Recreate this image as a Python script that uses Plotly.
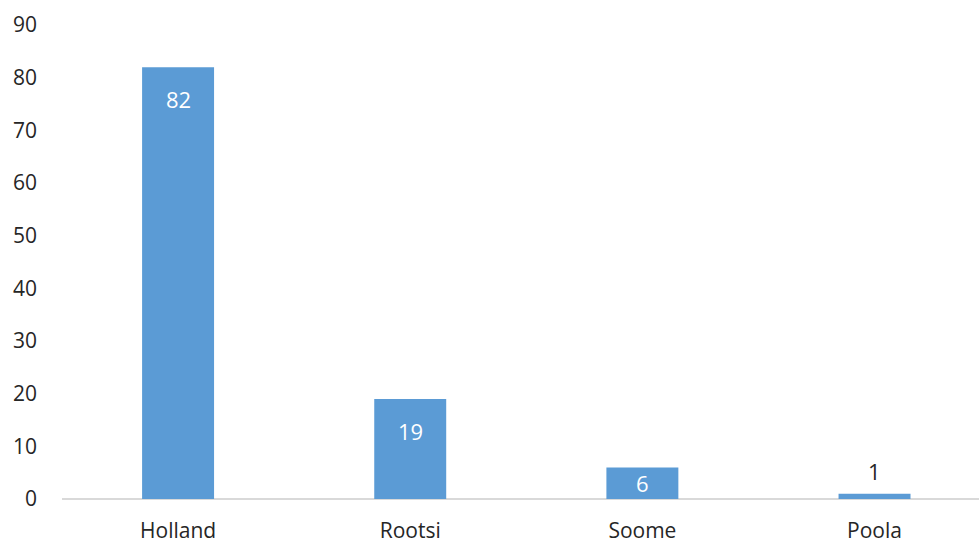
import plotly.graph_objects as go

countries = ["Holland", "Rootsi", "Soome", "Poola"]
values = [82, 19, 6, 1]
y_ticks = [0, 10, 20, 30, 40, 50, 60, 70, 80, 90]

bar_color = "#5B9BD5"
text_color = "#262626"
font_family = "Open Sans, Noto Sans, sans-serif"

fig = go.Figure(
    go.Bar(
        x=list(range(len(countries))),
        y=values,
        width=0.31,
        marker=dict(color=bar_color, line=dict(width=0)),
        hoverinfo="x+y",
    )
)

# value labels: near the top inside tall bars, centred in short bars,
# above bars too thin to hold text
for i, v in enumerate(values):
    if v >= 10:
        y, shift, color = v, -32, "white"
    elif v >= 4:
        y, shift, color = v / 2, 0, "white"
    else:
        y, shift, color = v, 23, text_color
    fig.add_annotation(
        x=i, y=y, yshift=shift, text=str(v), showarrow=False,
        xanchor="center", yanchor="middle",
        font=dict(family=font_family, size=22, color=color),
    )

fig.update_layout(
    width=979,
    height=545,
    margin=dict(l=62, r=0, t=25, b=46),
    paper_bgcolor="white",
    plot_bgcolor="white",
    showlegend=False,
    font=dict(family=font_family, size=20, color=text_color),
)

fig.update_xaxes(
    range=[-0.5, 3.45],
    tickmode="array",
    tickvals=list(range(len(countries))),
    ticktext=countries,
    showgrid=False,
    zeroline=False,
    showline=False,
    ticks="",
    tickfont=dict(size=21, color=text_color),
    ticklabelstandoff=17,
    automargin=False,
)

fig.update_yaxes(
    range=[0, 90],
    tickmode="array",
    tickvals=y_ticks,
    showgrid=False,
    zeroline=True,
    zerolinecolor="#D9D9D9",
    zerolinewidth=1.5,
    showline=False,
    ticks="",
    tickfont=dict(size=21, color=text_color),
    ticklabelstandoff=24,
    automargin=False,
)

fig.write_html("out.html")
